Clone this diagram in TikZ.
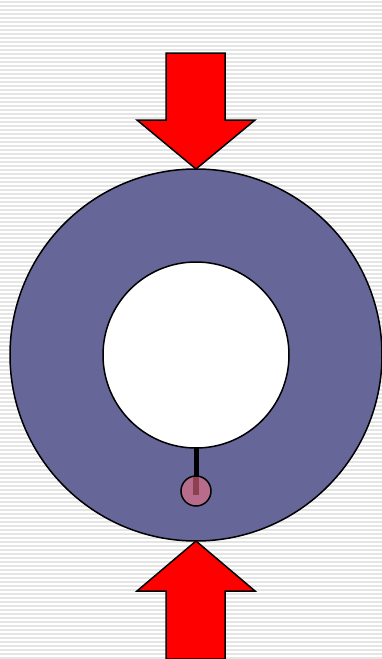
\documentclass[tikz,border=0pt]{standalone}
\usepackage{tikz}
\definecolor{ringblue}{HTML}{666699}
\definecolor{pinrose}{HTML}{B76C8C}
\definecolor{pinstem}{HTML}{8E4050}
\tikzset{
    force/.style={draw=black, line width=1.5pt, fill=red, line join=miter},
    outline/.style={draw=black, line width=1.5pt}
}

\begin{document}
\begin{tikzpicture}[x=1pt, y=-1pt]
    \useasboundingbox (0,0) rectangle (382,659);

    % Striped background
    \fill[white] (0,0) rectangle (382,659);
    \foreach \y in {2,6,...,658} \draw[gray!20, line width=1.6pt] (0,\y) -- (382,\y);

    % Ring
    \draw[outline, fill=ringblue] (196,355) circle (186pt);
    \draw[outline, fill=white] (196,355) circle (93pt);

    % Pin
    \draw[black, line width=5pt] (196,448) -- (196,478);
    \draw[outline, fill=pinrose] (196,491) circle (15pt);
    \fill[pinstem] (193,477) rectangle (199,495);

    % Load arrows
    \draw[force] (166,53) -- (225,53) -- (225,120) -- (255,120) -- (196,169)
        -- (137,120) -- (166,120) -- cycle;
    \draw[force] (166,659) -- (225,659) -- (225,591) -- (255,591) -- (196,541)
        -- (137,591) -- (166,591) -- cycle;
\end{tikzpicture}
\end{document}
